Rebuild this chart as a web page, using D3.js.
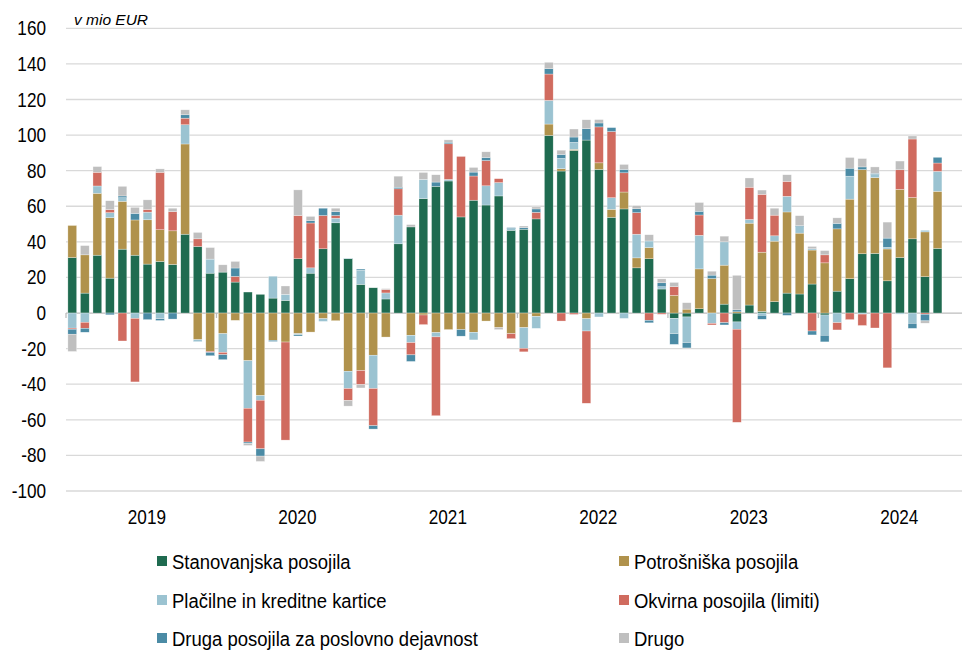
<!DOCTYPE html>
<html>
<head>
<meta charset="utf-8">
<script src="https://cdn.jsdelivr.net/npm/d3@7"></script>
<style>
  body { margin: 0; background: #fff; }
  svg { display: block; font-family: "Liberation Sans", Arial, sans-serif; }
</style>
</head>
<body>
<svg id="chart" width="962" height="652"></svg>
<script>
// Monthly data, Jan 2019 - Oct 2024, v mio EUR
const years = ["2019", "2020", "2021", "2022", "2023", "2024"];
const monthsInLastYear = 10;

const seriesNames = [
  "Stanovanjska posojila",
  "Potrošniška posojila",
  "Plačilne in kreditne kartice",
  "Okvirna posojila (limiti)",
  "Druga posojila za poslovno dejavnost",
  "Drugo"
];
const seriesKeys = ["stan", "potr", "kart", "okv", "druga", "drugo"];

const stan = [
  31.2, 11.2, 32.5, 19.6, 35.9, 32.5, 27.5, 29.0, 27.3, 44.3, 37.4, 22.4,
  23.0, 17.4, 11.8, 10.5, 8.4, 7.1, 30.5, 22.4, 36.1, 50.7, 30.5, 16.1,
  14.2, 7.9, 38.9, 48.4, 64.3, 71.2, 74.2, 54.0, 63.4, 60.7, 65.8, 46.5,
  47.1, 52.9, 99.8, 79.8, 91.4, 97.2, 80.7, 53.8, 58.5, 25.4, 30.5, 13.5,
  -3.0, -2.2, 2.4, 0, 5.0, -5.0, 4.5, 0.9, 6.4, 11.2, 10.7, 16.3,
  -1.1, 12.3, 19.3, 33.3, 33.5, 18.1, 31.2, 41.7, 20.4, 36.3
];
const potr = [
  18.0, 21.5, 34.8, 34.0, 26.9, 19.8, 24.9, 17.8, 18.9, 50.7, -15.0, -21.5,
  -11.6, -4.1, -26.8, -46.4, -15.3, -16.3, -11.6, -10.7, -3.2, -4.3, -32.7, -32.3,
  -23.7, -13.5, 0, -12.5, -1.1, -11.0, -9.3, -9.3, -10.8, -4.5, -8.2, -11.6,
  -8.2, -1.9, 6.4, 1.3, 0.6, -3.2, 3.7, 4.5, 9.5, 5.6, 6.3, 0,
  9.9, 2.2, 22.4, 19.4, 21.9, 0.7, 46.0, 33.3, 34.0, 45.6, 34.2, 19.1,
  28.2, 35.0, 44.7, 47.3, 42.6, 17.9, 38.3, 23.2, 25.2, 32.1
];
const kart = [
  -8.5, -5.2, 4.1, 2.8, 2.0, -3.0, 4.3, -3.2, 0, 10.8, -1.1, 7.9,
  -10.5, 0, -26.7, -2.6, 12.3, 3.4, -0.6, 3.0, -1.5, 2.6, -9.7, 7.9,
  -18.7, 3.4, 16.1, -4.1, 10.8, -2.4, 0.9, 0, -4.3, 10.8, 7.5, 0.9,
  -11.6, -6.7, 13.3, 5.8, 3.9, -6.9, -2.2, 6.5, -3.0, 13.3, 3.7, 1.3,
  -8.6, -14.4, 18.9, -5.8, 13.1, -4.1, 2.1, -1.3, 3.0, 8.8, 3.6, 0.7,
  -11.4, -5.4, 12.9, -0.6, 1.7, 0.9, -0.6, -5.8, 0.9, 11.2
];
const okv = [
  -0.6, -3.4, 7.7, 1.7, -15.7, -35.7, 1.5, 32.3, 10.8, 3.7, 4.3, -0.6,
  -1.3, 3.2, -19.0, -27.3, 0, -55.1, 24.3, 25.2, 18.7, 1.5, -6.7, -7.9,
  -20.9, 1.9, 14.8, -6.9, -5.4, -44.3, 20.0, 34.0, 13.6, 14.2, 2.2, -2.8,
  -2.0, 3.7, 14.8, -4.5, -0.8, -40.6, 20.2, 37.2, 10.8, 12.1, -4.1, -0.7,
  4.9, 0, 11.4, -0.9, -5.4, -52.3, 18.1, 32.5, 11.6, 8.4, 0, -10.1,
  4.5, -4.1, -3.7, -6.4, -8.4, -30.8, 11.0, 32.9, -0.7, 4.7
];
const druga = [
  -2.8, -2.2, 0, -1.0, 1.0, 3.7, -3.7, -1.0, -3.4, 1.9, 0, -1.9,
  -2.8, 4.7, -0.8, -4.1, -0.7, 0, -0.7, 1.3, 4.1, 2.2, 0.3, 0.7,
  -1.9, 0, 0.9, -3.7, 0, 2.4, 0.9, -3.7, 2.2, 1.7, 0, 0.6,
  0.9, 1.9, 3.0, 2.2, 3.0, 6.4, 2.2, 2.2, 1.9, 2.2, -1.4, 2.2,
  -6.0, -3.0, 2.1, 1.9, -1.3, 1.1, 0, -2.2, 0, -1.3, 0.6, -2.2,
  -3.7, 3.1, 4.5, 1.5, 0.7, 5.2, 0, -2.8, -3.7, 3.2
];
const drugo = [
  -9.7, 5.2, 3.2, 5.0, 5.4, 3.4, 5.4, 1.9, 1.9, 2.8, 3.6, 6.5,
  4.1, 3.7, -1.1, -3.0, 0, 4.7, 14.4, 2.4, 0, 1.9, -3.2, -1.9,
  0, 0.5, 6.2, 1.3, 3.9, 4.1, 1.3, 0, 2.6, 3.2, -1.1, 0,
  0.9, 1.1, 3.6, 2.4, 4.5, 5.0, 1.9, 0, 2.8, 1.7, 3.5, 2.2,
  2.4, 3.6, 4.9, 2.2, 3.2, 19.4, 5.2, 2.4, 3.9, 3.7, 5.6, 1.3,
  2.4, 3.1, 6.0, 4.7, 3.6, 9.0, 4.9, 1.7, -1.3, 0
];

const yTicks = [160, 140, 120, 100, 80, 60, 40, 20, 0, -20, -40, -60, -80, -100];

const colors = ["#1f6b50", "#b0924c", "#9bc3d1", "#d06b5f", "#4b8ba5", "#bfbfbf"];

// the reference text is a bit condensed, squeeze it horizontally
const squeeze = 0.88;

// build month categories
const months = [];
years.forEach((y, yi) => {
  const n = yi === years.length - 1 ? monthsInLastYear : 12;
  for (let m = 1; m <= n; m++) months.push(y + "-" + m);
});

const seriesData = [stan, potr, kart, okv, druga, drugo];
const table = months.map((m, i) => {
  const row = { month: m };
  seriesKeys.forEach((k, j) => { row[k] = seriesData[j][i]; });
  return row;
});

const svg = d3.select("#chart");

const left = 66, right = 962;
const x = d3.scaleBand()
  .domain(months)
  .range([left, 943.8])
  .paddingInner(0.3)
  .paddingOuter(0.15);
const step = x.step();

const y = d3.scaleLinear()
  .domain([-100, 160])
  .range([491, 28.3]);

// gridlines
svg.append("g")
  .selectAll("line")
  .data(yTicks)
  .enter()
  .append("line")
  .attr("x1", left)
  .attr("x2", right)
  .attr("y1", d => y(d))
  .attr("y2", d => y(d))
  .attr("stroke", d => d === 0 ? "#bdbdbd" : "#d9d9d9")
  .attr("stroke-width", 1.3);

// y labels
svg.append("g")
  .selectAll("text")
  .data(yTicks)
  .enter()
  .append("text")
  .attr("transform", d => `translate(46,${y(d)}) scale(${squeeze},1)`)
  .attr("dy", "0.36em")
  .attr("text-anchor", "end")
  .attr("font-size", "19.5px")
  .attr("fill", "#000")
  .text(d => d);

// stacked bars
const stack = d3.stack()
  .keys(seriesKeys)
  .offset(d3.stackOffsetDiverging);
const stacked = stack(table);

svg.append("g")
  .selectAll("g")
  .data(stacked)
  .enter()
  .append("g")
  .attr("fill", (d, i) => colors[i])
  .selectAll("rect")
  .data(d => d)
  .enter()
  .append("rect")
  .attr("x", d => x(d.data.month))
  .attr("width", x.bandwidth())
  .attr("y", d => y(Math.max(d[0], d[1])))
  .attr("height", d => Math.abs(y(d[0]) - y(d[1])))
  .attr("stroke", "#fff")
  .attr("stroke-width", 0.5)
  .attr("stroke-opacity", 0.6);

// year ticks on zero line
const yearStarts = years.map(yr => left + months.indexOf(yr + "-1") * step);
svg.append("g")
  .selectAll("line")
  .data(yearStarts)
  .enter()
  .append("line")
  .attr("x1", d => d)
  .attr("x2", d => d)
  .attr("y1", y(0))
  .attr("y2", y(0) + 5)
  .attr("stroke", "#bdbdbd")
  .attr("stroke-width", 1.3);

// year labels
svg.append("g")
  .selectAll("text")
  .data(years)
  .enter()
  .append("text")
  .attr("transform", (d, i) => `translate(${yearStarts[i] + step * 6.45},524) scale(${squeeze},1)`)
  .attr("text-anchor", "middle")
  .attr("font-size", "19.5px")
  .attr("fill", "#000")
  .text(d => d);

// unit label
svg.append("text")
  .attr("x", 74)
  .attr("y", 25)
  .attr("font-size", "15.5px")
  .attr("font-style", "italic")
  .attr("fill", "#000")
  .text("v mio EUR");

// legend, two columns
const legendCols = [157, 619];
const legendRows = [561, 600, 638];
const legend = svg.append("g")
  .selectAll("g")
  .data(seriesNames)
  .enter()
  .append("g")
  .attr("transform", (d, i) => `translate(${legendCols[i % 2]},${legendRows[Math.floor(i / 2)]})`);

legend.append("rect")
  .attr("x", 0)
  .attr("y", -5)
  .attr("width", 10)
  .attr("height", 10)
  .attr("fill", (d, i) => colors[i]);

legend.append("text")
  .attr("transform", `translate(15,0) scale(${squeeze},1)`)
  .attr("dy", "0.36em")
  .attr("font-size", "21px")
  .attr("fill", "#000")
  .text(d => d);
</script>
</body>
</html>
